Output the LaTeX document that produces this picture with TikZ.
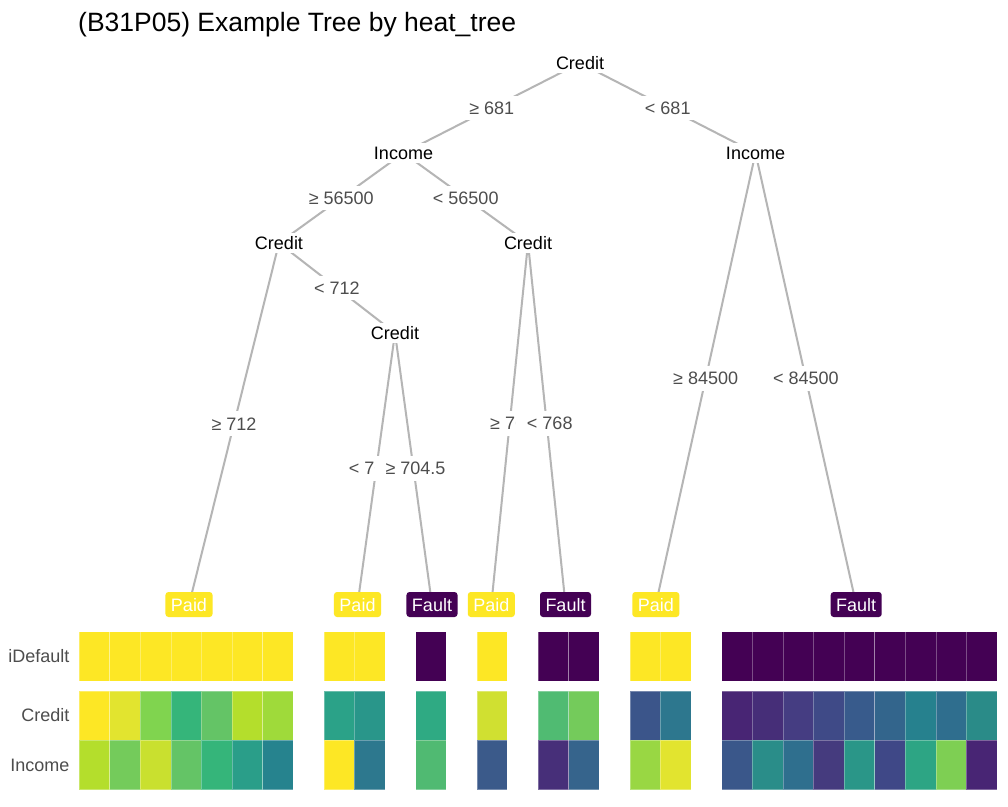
\documentclass[tikz,border=0pt]{standalone}
\usepackage{fontspec}
\setmainfont{Liberation Sans}
\usetikzlibrary{backgrounds}
\definecolor{linegray}{HTML}{B5B5B5}
\definecolor{labgray}{HTML}{4D4D4D}
\definecolor{paidc}{HTML}{FDE725}
\definecolor{faultc}{HTML}{440154}
\begin{document}
\begin{tikzpicture}[x=1pt,y=-1pt,
  conn/.style={draw=linegray, line width=2pt},
  splitnode/.style={fill=white, inner sep=3.5pt, text=black, font=\fontsize{18}{20}\selectfont},
  elab/.style={fill=white, text=labgray, inner xsep=11pt, inner ysep=6pt, font=\fontsize{18}{20}\selectfont},
  leafbox/.style={rounded corners=3pt, text=white, inner xsep=5.5pt, inner ysep=6pt, text height=13pt, text depth=0pt, font=\fontsize{18}{20}\selectfont},
  paid/.style={leafbox, fill=paidc},
  fault/.style={leafbox, fill=faultc},
  rowlab/.style={anchor=east, inner sep=0pt, text=labgray, font=\fontsize{18}{20}\selectfont},
  cell/.style={draw=white, draw opacity=0.3, line width=0.6pt}
]
\useasboundingbox (0,0) rectangle (1008,806);
\begin{scope}[on background layer]
  \fill[white] (0,0) rectangle (1008,806);
\end{scope}

% title
\node[anchor=base west, inner sep=0pt, font=\fontsize{26.5}{30}\selectfont] (title) at (78,31) {(B31P05) Example Tree by heat\_tree};

% split nodes
\node[splitnode] (root) at (580,63) {Credit};
\node[splitnode] (inL) at (403.5,153) {Income};
\node[splitnode] (inR) at (755.5,153) {Income};
\node[splitnode] (crA) at (279,243) {Credit};
\node[splitnode] (crB) at (528,243) {Credit};
\node[splitnode] (crC) at (395,333) {Credit};

% leaves
\node[paid]  (l1) at (189,604.5) {Paid};
\node[paid]  (l2) at (357.5,604.5) {Paid};
\node[fault] (l3) at (432,604.5) {Fault};
\node[paid]  (l4) at (491.3,604.5) {Paid};
\node[fault] (l5) at (565.5,604.5) {Fault};
\node[paid]  (l6) at (655.8,604.5) {Paid};
\node[fault] (l7) at (856.2,604.5) {Fault};

% connectors (behind)
\begin{scope}[on background layer]
  \draw[conn] (root.center) -- (inL.center);
  \draw[conn] (root.center) -- (inR.center);
  \draw[conn] (inL.center) -- (crA.center);
  \draw[conn] (inL.center) -- (crB.center);
  \draw[conn] (crA.center) -- (l1.center);
  \draw[conn] (crA.center) -- (crC.center);
  \draw[conn] (crC.center) -- (l2.center);
  \draw[conn] (crC.center) -- (l3.center);
  \draw[conn] (crB.center) -- (l4.center);
  \draw[conn] (crB.center) -- (l5.center);
  \draw[conn] (inR.center) -- (l6.center);
  \draw[conn] (inR.center) -- (l7.center);
\end{scope}

% edge labels
\path (root.center) -- (inL.center) node[elab, midway] (e1) {≥ 681};
\path (root.center) -- (inR.center) node[elab, midway] (e2) {< 681};
\path (inL.center) -- (crA.center) node[elab, midway] (e3) {≥ 56500};
\path (inL.center) -- (crB.center) node[elab, midway] (e4) {< 56500};
\path (crA.center) -- (l1.center) node[elab, midway] (e5) {≥ 712};
\path (crA.center) -- (crC.center) node[elab, midway] (e6) {< 712};
\path (crC.center) -- (l2.center) node[elab, midway, xshift=3pt] (e7) {< 704.5};
\path (crC.center) -- (l3.center) node[elab, midway, xshift=2pt] (e8) {≥ 704.5};
\path (crB.center) -- (l4.center) node[elab, midway, xshift=3pt] (e9) {≥ 768};
\path (crB.center) -- (l5.center) node[elab, midway, xshift=3pt] (e10) {< 768};
\path (inR.center) -- (l6.center) node[elab, midway] (e11) {≥ 84500};
\path (inR.center) -- (l7.center) node[elab, midway] (e12) {< 84500};

% row labels
\node[rowlab] (rIdef) at (69.5,656) {iDefault};
\node[rowlab] (rCred) at (69.5,715.5) {Credit};
\node[rowlab] (rInc) at (69.5,765) {Income};

% heatmap
\foreach \k/\ca/\cb/\cc in {
  0/FDE725/FDE725/B4DE2C, 1/FDE725/E2E42F/74CB5B, 2/FDE725/80D44F/C9E02F,
  3/FDE725/35B57A/64C466, 4/FDE725/64C466/35B57A, 5/FDE725/B4DE2C/2A9E89,
  6/FDE725/9FDA3A/26838E,
  8/FDE725/2BA288/FDE725, 9/FDE725/29968A/2D788E,
  11/440154/2FAA83/50BA72,
  13/FDE725/D0E031/3B5A8A,
  15/440154/50BB72/472F79, 16/440154/74CB5B/36648C,
  18/FDE725/3B558A/99D743, 19/FDE725/2D778E/E2E42F,
  21/440154/482574/3A578A, 22/440154/462E78/2A8D89, 23/440154/453D82/2F6F8E,
  24/440154/3F4A87/453B7E, 25/440154/385B8C/2A9688, 26/440154/33658C/3F4887,
  27/440154/26818E/2DA584, 28/440154/2F6E8E/7ECF53, 29/440154/2A8B88/482574}{
  \definecolor{hA}{HTML}{\ca}
  \definecolor{hB}{HTML}{\cb}
  \definecolor{hC}{HTML}{\cc}
  \filldraw[cell, fill=hA] (79+\k*30.6,631.5) rectangle ++(30.6,49.5);
  \filldraw[cell, fill=hB] (79+\k*30.6,691) rectangle ++(30.6,49.2);
  \filldraw[cell, fill=hC] (79+\k*30.6,740.2) rectangle ++(30.6,49.3);
}
\end{tikzpicture}
\end{document}
